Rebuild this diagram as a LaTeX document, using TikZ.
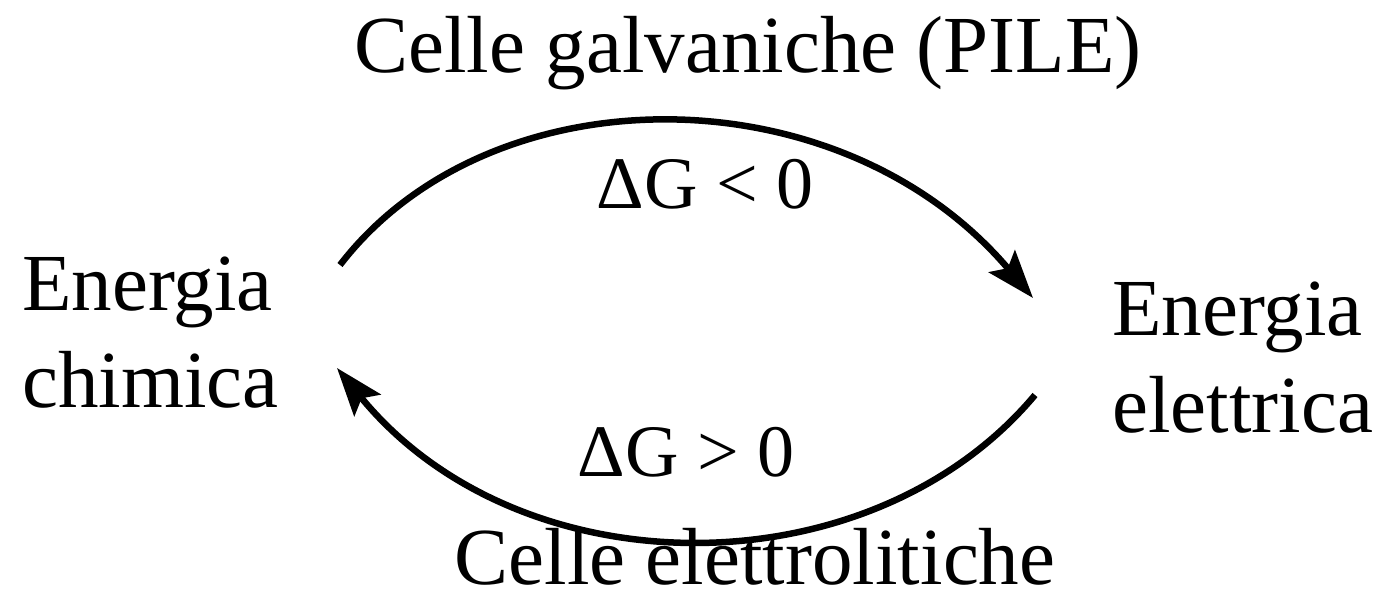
\documentclass[tikz,border=0pt]{standalone}
\usepackage{fontspec}
\setmainfont{Liberation Serif}
\usetikzlibrary{arrows.meta}
\tikzset{
  big/.style={font=\fontsize{81}{97}\selectfont, inner sep=0pt},
  mid/.style={font=\fontsize{74}{86}\selectfont, inner sep=0pt},
  flow/.style={line width=6.5pt, -{Stealth[length=48pt,width=34pt,inset=9pt]}}
}
\begin{document}
\begin{tikzpicture}[x=1pt,y=-1pt]
\useasboundingbox (0,0) rectangle (1387,600);
\node[big, anchor=base] (galv) at (748,72) {Celle galvaniche (PILE)};
\node[big, anchor=base west, align=left] (chim) at (22,407) {Energia\\chimica};
\node[big, anchor=base west, align=left] (elet) at (1112,432) {Energia\\elettrica};
\node[mid, anchor=base] (dgneg) at (705,208) {ΔG < 0};
\node[mid, anchor=base] (dgpos) at (686,476) {ΔG > 0};
\node[big, anchor=base] (elettr) at (755,584) {Celle elettrolitiche};
\coordinate (a1) at (340,265);
\coordinate (b1) at (1033,298);
\coordinate (a2) at (1035,395);
\coordinate (b2) at (337,368);
\draw[flow] (a1) .. controls (490,70) and (840,70) .. (b1);
\draw[flow] (a2) .. controls (870,592) and (520,592) .. (b2);
\end{tikzpicture}
\end{document}
